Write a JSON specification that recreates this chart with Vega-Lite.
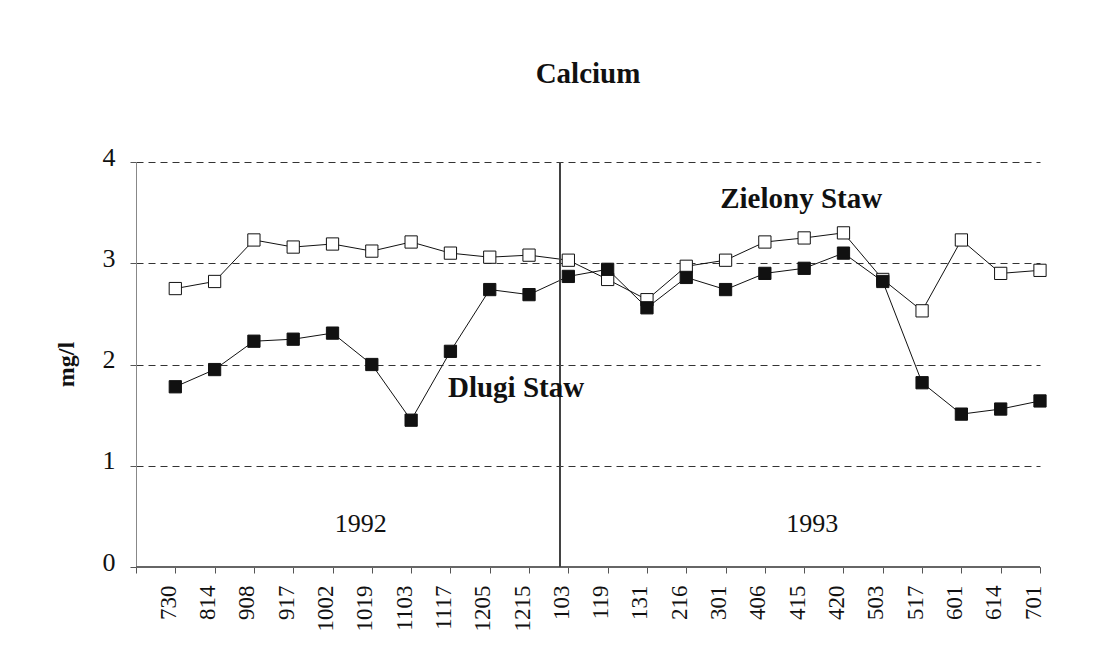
{
  "$schema": "https://vega.github.io/schema/vega-lite/v6.json",
  "width": 904,
  "height": 405,
  "autosize": "none",
  "padding": {"left": 136, "top": 162, "right": 64, "bottom": 89},
  "background": "white",
  "config": {
    "view": {"stroke": null},
    "font": "Liberation Serif",
    "axisX": {"title": null, "labelAngle": -90, "labelAlign": "right", "labelBaseline": "alphabetic", "labelFontSize": 23, "labelFont": "Liberation Serif", "labelColor": "#111111", "labelPadding": 12, "tickSize": 6, "tickColor": "#555555", "domainColor": "#777777", "grid": false},
    "axisY": {"labelFontSize": 26, "labelFont": "Liberation Serif", "labelColor": "#111111", "labelPadding": 15, "labelOffset": -5, "tickSize": 6, "tickColor": "#555555", "domainColor": "#888888", "grid": true, "gridDash": [7, 5], "gridColor": "#333333", "gridWidth": 1}
  },
  "title": {"text": "Calcium", "font": "Liberation Serif", "fontSize": 29, "fontWeight": "bold", "color": "#111111", "anchor": "middle", "baseline": "alphabetic", "offset": 32},
  "data": {"values": [
    {"date": "730", "series": "Zielony Staw", "n": 1, "value": 2.75},
    {"date": "814", "series": "Zielony Staw", "n": 2, "value": 2.82},
    {"date": "908", "series": "Zielony Staw", "n": 3, "value": 3.23},
    {"date": "917", "series": "Zielony Staw", "n": 4, "value": 3.16},
    {"date": "1002", "series": "Zielony Staw", "n": 5, "value": 3.19},
    {"date": "1019", "series": "Zielony Staw", "n": 6, "value": 3.12},
    {"date": "1103", "series": "Zielony Staw", "n": 7, "value": 3.21},
    {"date": "1117", "series": "Zielony Staw", "n": 8, "value": 3.10},
    {"date": "1205", "series": "Zielony Staw", "n": 9, "value": 3.06},
    {"date": "1215", "series": "Zielony Staw", "n": 10, "value": 3.08},
    {"date": "103", "series": "Zielony Staw", "n": 11, "value": 3.03},
    {"date": "119", "series": "Zielony Staw", "n": 12, "value": 2.84},
    {"date": "131", "series": "Zielony Staw", "n": 13, "value": 2.64},
    {"date": "216", "series": "Zielony Staw", "n": 14, "value": 2.97},
    {"date": "301", "series": "Zielony Staw", "n": 15, "value": 3.03},
    {"date": "406", "series": "Zielony Staw", "n": 16, "value": 3.21},
    {"date": "415", "series": "Zielony Staw", "n": 17, "value": 3.25},
    {"date": "420", "series": "Zielony Staw", "n": 18, "value": 3.30},
    {"date": "503", "series": "Zielony Staw", "n": 19, "value": 2.84},
    {"date": "517", "series": "Zielony Staw", "n": 20, "value": 2.53},
    {"date": "601", "series": "Zielony Staw", "n": 21, "value": 3.23},
    {"date": "614", "series": "Zielony Staw", "n": 22, "value": 2.90},
    {"date": "701", "series": "Zielony Staw", "n": 23, "value": 2.93},
    {"date": "730", "series": "Dlugi Staw", "n": 1, "value": 1.78},
    {"date": "814", "series": "Dlugi Staw", "n": 2, "value": 1.95},
    {"date": "908", "series": "Dlugi Staw", "n": 3, "value": 2.23},
    {"date": "917", "series": "Dlugi Staw", "n": 4, "value": 2.25},
    {"date": "1002", "series": "Dlugi Staw", "n": 5, "value": 2.31},
    {"date": "1019", "series": "Dlugi Staw", "n": 6, "value": 2.00},
    {"date": "1103", "series": "Dlugi Staw", "n": 7, "value": 1.45},
    {"date": "1117", "series": "Dlugi Staw", "n": 8, "value": 2.13},
    {"date": "1205", "series": "Dlugi Staw", "n": 9, "value": 2.74},
    {"date": "1215", "series": "Dlugi Staw", "n": 10, "value": 2.69},
    {"date": "103", "series": "Dlugi Staw", "n": 11, "value": 2.87},
    {"date": "119", "series": "Dlugi Staw", "n": 12, "value": 2.94},
    {"date": "131", "series": "Dlugi Staw", "n": 13, "value": 2.56},
    {"date": "216", "series": "Dlugi Staw", "n": 14, "value": 2.86},
    {"date": "301", "series": "Dlugi Staw", "n": 15, "value": 2.74},
    {"date": "406", "series": "Dlugi Staw", "n": 16, "value": 2.90},
    {"date": "415", "series": "Dlugi Staw", "n": 17, "value": 2.95},
    {"date": "420", "series": "Dlugi Staw", "n": 18, "value": 3.10},
    {"date": "503", "series": "Dlugi Staw", "n": 19, "value": 2.82},
    {"date": "517", "series": "Dlugi Staw", "n": 20, "value": 1.82},
    {"date": "601", "series": "Dlugi Staw", "n": 21, "value": 1.51},
    {"date": "614", "series": "Dlugi Staw", "n": 22, "value": 1.56},
    {"date": "701", "series": "Dlugi Staw", "n": 23, "value": 1.64}
  ]},
  "layer": [
    {
      "mark": {"type": "line", "color": "#111111", "strokeWidth": 1},
      "encoding": {
        "x": {"field": "date", "type": "ordinal",
          "scale": {"type": "point", "padding": 0, "domain": ["", "730", "814", "908", "917", "1002", "1019", "1103", "1117", "1205", "1215", "103", "119", "131", "216", "301", "406", "415", "420", "503", "517", "601", "614", "701"]},
          "axis": {"title": null}},
        "y": {"field": "value", "type": "quantitative",
          "scale": {"domain": [0, 4], "nice": false, "zero": true},
          "axis": {"title": "mg/l", "titleFont": "Liberation Serif", "titleFontSize": 24, "titleFontWeight": "bold", "titleColor": "#111111", "titleAngle": -90, "titleX": -70, "titleY": 202, "titleAlign": "center", "titleBaseline": "middle", "values": [0, 1, 2, 3, 4], "format": "d"}},
        "detail": {"field": "series"},
        "order": {"field": "n"}
      }
    },
    {
      "mark": {"type": "rule", "color": "#666666", "strokeWidth": 1},
      "encoding": {"y": {"datum": 0, "type": "quantitative"}}
    },
    {
      "mark": {"type": "rule", "color": "#444444", "strokeWidth": 1, "xOffset": -8},
      "encoding": {"x": {"datum": "103", "type": "ordinal"}}
    },
    {
      "mark": {"type": "square", "size": 150, "stroke": "#111111", "strokeWidth": 1, "opacity": 1, "fillOpacity": 1},
      "encoding": {
        "x": {"field": "date", "type": "ordinal"},
        "y": {"field": "value", "type": "quantitative"},
        "fill": {"field": "series", "type": "nominal", "scale": {"domain": ["Zielony Staw", "Dlugi Staw"], "range": ["#ffffff", "#111111"]}, "legend": null}
      }
    },
    {
      "data": {"values": [{"date": "415", "value": 3.544, "label": "Zielony Staw"}]},
      "mark": {"type": "text", "font": "Liberation Serif", "fontSize": 29, "fontWeight": "bold", "color": "#111111", "align": "center", "baseline": "alphabetic", "dx": -3},
      "encoding": {"x": {"field": "date", "type": "ordinal"}, "y": {"field": "value", "type": "quantitative"}, "text": {"field": "label"}}
    },
    {
      "data": {"values": [{"date": "1215", "value": 1.679, "label": "Dlugi Staw"}]},
      "mark": {"type": "text", "font": "Liberation Serif", "fontSize": 29, "fontWeight": "bold", "color": "#111111", "align": "center", "baseline": "alphabetic", "dx": -13},
      "encoding": {"x": {"field": "date", "type": "ordinal"}, "y": {"field": "value", "type": "quantitative"}, "text": {"field": "label"}}
    },
    {
      "data": {"values": [{"date": "1019", "value": 0.35, "label": "1992"}]},
      "mark": {"type": "text", "font": "Liberation Serif", "fontSize": 26, "color": "#111111", "align": "center", "baseline": "alphabetic", "dx": -11},
      "encoding": {"x": {"field": "date", "type": "ordinal"}, "y": {"field": "value", "type": "quantitative"}, "text": {"field": "label"}}
    },
    {
      "data": {"values": [{"date": "415", "value": 0.35, "label": "1993"}]},
      "mark": {"type": "text", "font": "Liberation Serif", "fontSize": 26, "color": "#111111", "align": "center", "baseline": "alphabetic", "dx": 8},
      "encoding": {"x": {"field": "date", "type": "ordinal"}, "y": {"field": "value", "type": "quantitative"}, "text": {"field": "label"}}
    }
  ]
}
